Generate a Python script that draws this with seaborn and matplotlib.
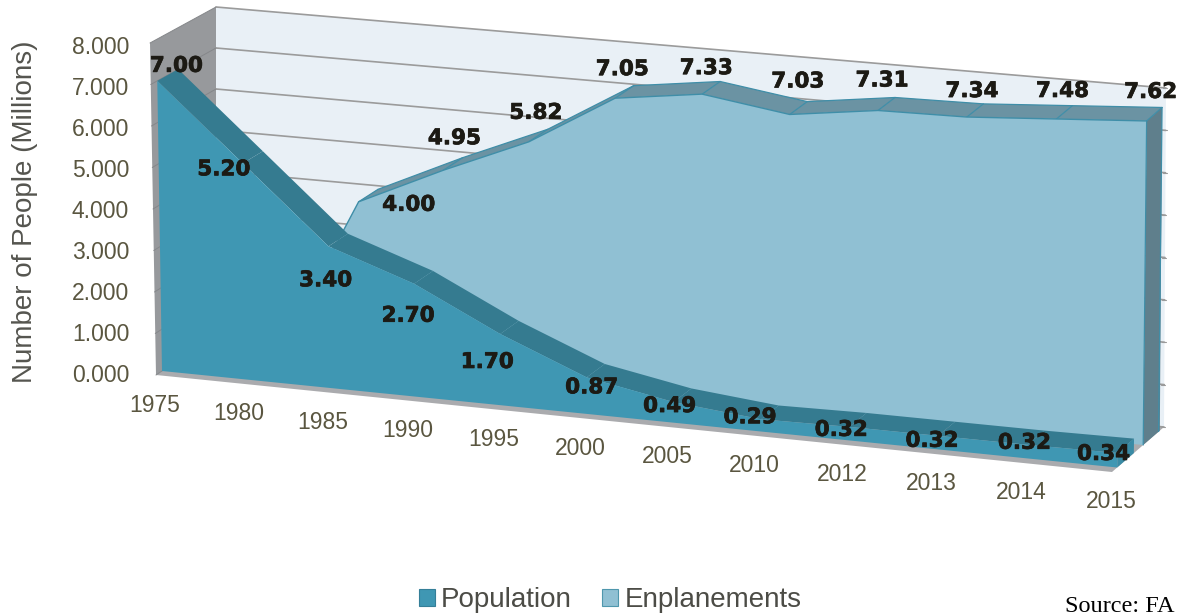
import numpy as np
import matplotlib
matplotlib.use("Agg")
import matplotlib.pyplot as plt
import matplotlib.patheffects as pe
from matplotlib.patches import Patch
import seaborn as sns

# Series values (millions of people)
years = ["1975", "1980", "1985", "1990", "1995", "2000", "2005", "2010", "2012", "2013", "2014", "2015"]
population = [7.00, 5.20, 3.40, 2.70, 1.70, 0.87, 0.49, 0.29, 0.32, 0.32, 0.32, 0.34]
enplanements = [0, 0, 4.00, 4.95, 5.82, 7.05, 7.33, 7.03, 7.31, 7.34, 7.48, 7.62]
y_ticks = [0, 1, 2, 3, 4, 5, 6, 7, 8]

# Pixel offsets of the value labels from their points on the front of each area
population_offsets = [(19, -15), (-19, 6), (-3, 34), (-6, 32), (-13, 28), (5, 10),
                      (-4, 4), (-11, -2), (-8, 3), (-6, 5), (-3, -2), (-14, 1)]
enplanement_offsets = [None, None, (50, 3), (11, -32), (7, -29), (7, -29),
                       (4, -26), (8, -33), (4, -30), (5, -26), (6, -28), (4, -29)]

# The 3D box: corners in figure pixels, as (left/right, bottom/top) for the front and back planes
FRONT = {"lb": (156, 375), "lt": (150, 43), "rb": (1112, 472), "rt": (1118, 130)}
BACK = {"lb": (216, 335), "lt": (216, 7), "rb": (1164, 427), "rt": (1166, 88)}
Y_MAX = 8.0
N = len(years) - 1
PERSPECTIVE = 0.04

POP_DEPTH = (0.10, 0.42)
ENP_DEPTH = (0.60, 0.92)

C_WALL = "#e9f0f6"
C_SIDE = "#97999c"
C_FLOOR = "#aaabae"
C_GRID = "#9b9b9b"
C_POP = "#3f97b3"
C_POP_TOP = "#357b90"
C_ENP = "#90c0d3"
C_ENP_TOP = "#6b93a3"
C_ENP_SIDE = "#5f7f8c"
C_ENP_EDGE = "#3f8ea8"
C_AXIS_TEXT = "#5a5640"
C_VALUE = "#1c1a14"


def project(i, v, d):
    """Map category index, value and depth (0 front, 1 back) to figure pixels."""
    i, v = np.asarray(i, float), np.asarray(v, float)
    u, t = i / N, v / Y_MAX
    u = u - PERSPECTIVE * u * (1 - u)
    out = []
    for k in (0, 1):
        corner = {c: FRONT[c][k] * (1 - d) + BACK[c][k] * d for c in FRONT}
        bottom = corner["lb"] * (1 - u) + corner["rb"] * u
        top = corner["lt"] * (1 - u) + corner["rt"] * u
        out.append(bottom * (1 - t) + top * t)
    return out[0], out[1]


def poly(ax, points, color, z, edge="none", lw=0.0):
    xy = np.array(points)
    ax.fill(xy[:, 0], xy[:, 1], facecolor=color, edgecolor=edge, linewidth=lw, zorder=z)


def line(ax, x, y, color, lw, z):
    sns.lineplot(x=np.atleast_1d(x), y=np.atleast_1d(y), sort=False, estimator=None,
                 color=color, linewidth=lw, zorder=z, legend=False, ax=ax)


def area(ax, values, depth, face, top, side, z, edge=None):
    """One extruded area: side face, top ribbon, then the front face."""
    idx = np.arange(len(values))
    vals = np.array(values, float)
    d0, d1 = depth
    fx, fy = project(idx, vals, d0)
    bx, by = project(idx, vals, d1)
    base_x, base_y = project(idx, 0 * vals, d0)
    last = idx[-1]
    poly(ax, [project(last, 0, d0), project(last, 0, d1),
              project(last, vals[-1], d1), project(last, vals[-1], d0)], side, z)
    for j in idx[:-1]:
        poly(ax, [(fx[j], fy[j]), (fx[j + 1], fy[j + 1]), (bx[j + 1], by[j + 1]), (bx[j], by[j])],
             top, z + 0.1)
        if edge and vals[j + 1] > 0:
            line(ax, [fx[j + 1], bx[j + 1]], [fy[j + 1], by[j + 1]], edge, 0.9, z + 0.2)
    if edge:
        keep = vals > 0
        line(ax, bx[keep], by[keep], edge, 0.9, z + 0.2)
        line(ax, [bx[last], base_x[last] + (bx[last] - fx[last])],
             [by[last], base_y[last] + (by[last] - fy[last])], edge, 0.9, z + 0.2)
        line(ax, [fx[last], base_x[last]], [fy[last], base_y[last]], edge, 0.9, z + 0.4)
    ax.fill(np.r_[base_x[0], fx, base_x[-1]], np.r_[base_y[0], fy, base_y[-1]],
            facecolor=face, edgecolor="none", zorder=z + 0.3)
    if edge:
        keep = vals > 0
        keep[np.argmax(keep) - 1] = True
        line(ax, fx[keep], fy[keep], edge, 1.0, z + 0.4)
    return fx, fy


sns.set_theme(style="white")
plt.rcParams["font.family"] = ["Liberation Sans", "DejaVu Sans"]

fig = plt.figure(figsize=(11.79, 6.15), dpi=100, facecolor="white")
ax = fig.add_axes([0, 0, 1, 1])
ax.set_facecolor("white")

n = N
# Walls and floor
poly(ax, [project(0, 0, 1), project(n, 0, 1), project(n, Y_MAX, 1), project(0, Y_MAX, 1)], C_WALL, 1)
poly(ax, [project(0, 0, 0), project(0, Y_MAX, 0), project(0, Y_MAX, 1), project(0, 0, 1)], C_SIDE, 1.1)
poly(ax, [project(0, 0, 0), project(n, 0, 0), project(n, 0, 1), project(0, 0, 1)], C_FLOOR, 1.2)

# Gridlines on the back and side walls, small ticks on the far edge
for tick in y_ticks:
    bx, by = project(np.array([0, n]), np.array([tick, tick]), 1)
    line(ax, bx, by, C_GRID, 1.2, 1.5)
    sx0, sy0 = project(0, tick, 0)
    sx1, sy1 = project(0, tick, 1)
    line(ax, [sx0, sx1], [sy0, sy1], "#85878a", 0.7, 1.5)
    line(ax, [bx[1] - 3, bx[1] + 1], [by[1], by[1]], C_GRID, 0.8, 1.5)

# Both areas, the far one first
efx, efy = area(ax, enplanements, ENP_DEPTH, C_ENP, C_ENP_TOP, C_ENP_SIDE, 2, edge=C_ENP_EDGE)
pfx, pfy = area(ax, population, POP_DEPTH, C_POP, C_POP_TOP, "#3a8ba5", 3)

# Value labels
value_style = dict(family="DejaVu Sans", fontweight="bold", fontsize=15.5, color=C_VALUE,
                   ha="center", va="center", zorder=6,
                   path_effects=[pe.withStroke(linewidth=0.5, foreground=C_VALUE)])
for val, px, py, off in zip(population, pfx, pfy, population_offsets):
    ax.text(px + off[0], py + off[1], f"{val:.2f}", **value_style)
for val, px, py, off in zip(enplanements, efx, efy, enplanement_offsets):
    if off is not None:
        ax.text(px + off[0], py + off[1], f"{val:.2f}", **value_style)

# Axis text
for tick in y_ticks:
    _, ty = project(0, tick, 0)
    ax.text(72, ty + 1 + 0.4 * tick, f"{tick:.3f}", fontsize=16.5, color=C_AXIS_TEXT,
            ha="left", va="center")
for i, year in enumerate(years):
    tx, ty = project(i, 0, 0)
    ax.text(tx - 1, ty + 30, year, fontsize=16.5, color=C_AXIS_TEXT, ha="center", va="center")
ax.text(25, 212, "Number of People (Millions)", rotation=90, fontsize=20, color="#55554f",
        ha="center", va="center")

handles = [Patch(facecolor=C_POP, edgecolor="#357f98", linewidth=0.8, label="Population"),
           Patch(facecolor=C_ENP, edgecolor="#4f97ad", linewidth=0.8, label="Enplanements")]
ax.legend(handles=handles, loc="center", bbox_to_anchor=(610 / 1179, 1 - 600 / 615), ncol=2,
          frameon=False, fontsize=20, handlelength=0.58, handleheight=0.58, handletextpad=0.22,
          columnspacing=1.1, labelcolor="#4c4c46", borderpad=0, borderaxespad=0)

ax.text(1065, 612, "Source: FA", family="Liberation Serif", fontsize=17.5, color="black",
        ha="left", va="baseline", clip_on=False)

ax.set_xlim(0, 1179)
ax.set_ylim(615, 0)
ax.axis("off")
fig.savefig("out.png", dpi=100, facecolor="white")
